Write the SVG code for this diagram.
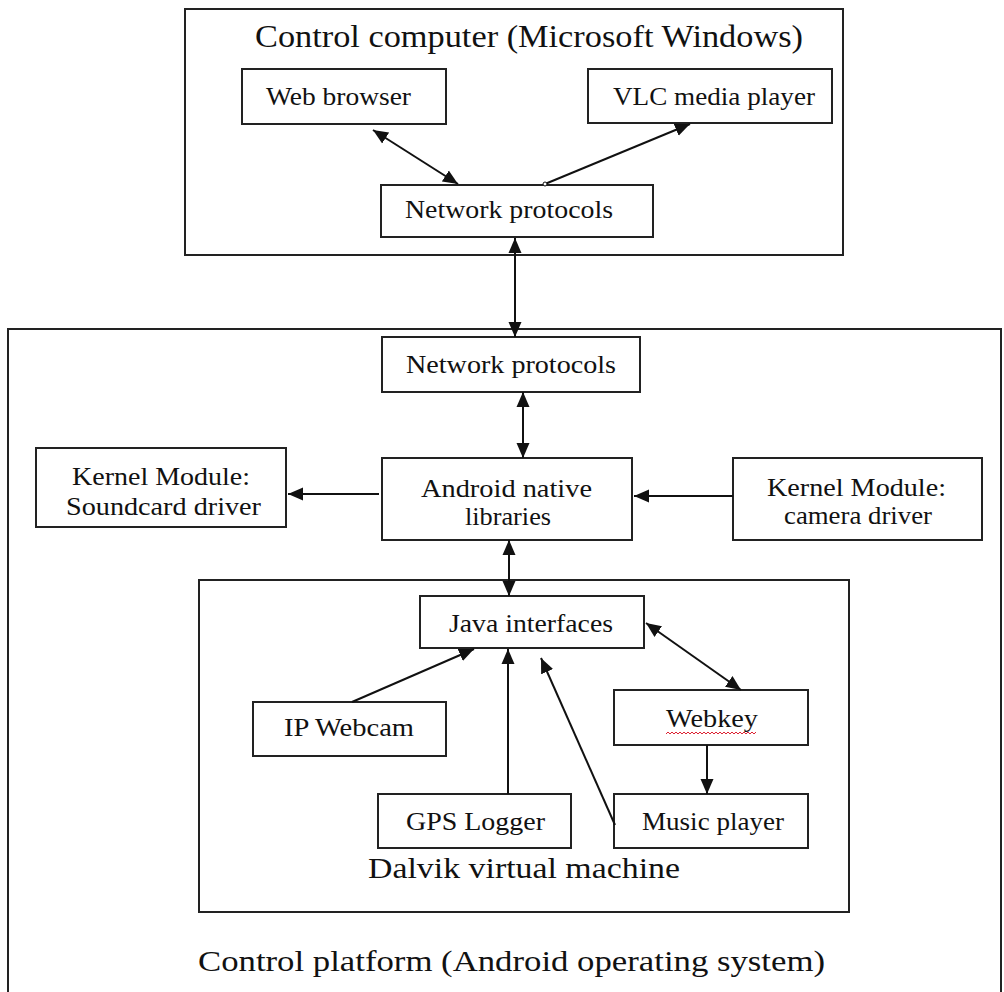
<svg xmlns="http://www.w3.org/2000/svg" width="1004" height="992" viewBox="0 0 1004 992">
<style>
.box{fill:#fff;stroke:#222;stroke-width:2}
.frame{fill:none;stroke:#222;stroke-width:2}
text{font-family:"Liberation Serif","Times New Roman",serif;fill:#111;font-size:26px}
.big{font-size:31px}
.mid{font-size:29px}
.c{stroke:#111;stroke-width:2;fill:none}
.h{marker-end:url(#ah)}
.hh{marker-start:url(#ah);marker-end:url(#ah)}
</style>
<defs>
<marker id="ah" markerUnits="userSpaceOnUse" markerWidth="16" markerHeight="14" refX="15" refY="6.5" orient="auto-start-reverse" viewBox="0 0 16 13">
<path d="M0,0 L15,6.5 L0,13 z" fill="#111"/>
</marker>
</defs>
<rect width="1004" height="992" fill="#fff"/>

<g id="control-computer">
<rect class="frame" x="185" y="9" width="658" height="246"/>
<text class="big" x="255" y="47" textLength="548" lengthAdjust="spacingAndGlyphs">Control computer (Microsoft Windows)</text>
</g>
<g id="web-browser">
<rect class="box" x="242" y="69" width="204" height="55"/>
<text x="266" y="105" textLength="145" lengthAdjust="spacingAndGlyphs">Web browser</text>
</g>
<g id="vlc">
<rect class="box" x="588" y="69" width="244" height="54"/>
<text x="613" y="105" textLength="202" lengthAdjust="spacingAndGlyphs">VLC media player</text>
</g>
<g id="net-top">
<rect class="box" x="381" y="185" width="272" height="52"/>
<text x="405" y="218" textLength="208" lengthAdjust="spacingAndGlyphs">Network protocols</text>
</g>

<g id="control-platform">
<path class="frame" d="M8,992 V329 H1001 V992"/>
<text class="mid" x="198" y="971" textLength="627" lengthAdjust="spacingAndGlyphs">Control platform (Android operating system)</text>
</g>
<g id="net-low">
<rect class="box" x="382" y="337" width="258" height="55"/>
<text x="406" y="373" textLength="210" lengthAdjust="spacingAndGlyphs">Network protocols</text>
</g>
<g id="soundcard">
<rect class="box" x="36" y="448" width="250" height="79"/>
<text x="72" y="485" textLength="178" lengthAdjust="spacingAndGlyphs">Kernel Module:</text>
<text x="66" y="515" textLength="195" lengthAdjust="spacingAndGlyphs">Soundcard driver</text>
</g>
<g id="android-native">
<rect class="box" x="382" y="458" width="250" height="82"/>
<text x="421" y="497" textLength="171" lengthAdjust="spacingAndGlyphs">Android native</text>
<text x="465" y="525" textLength="86" lengthAdjust="spacingAndGlyphs">libraries</text>
</g>
<g id="camera">
<rect class="box" x="733" y="458" width="249" height="82"/>
<text x="767" y="496" textLength="179" lengthAdjust="spacingAndGlyphs">Kernel Module:</text>
<text x="784" y="524" textLength="148" lengthAdjust="spacingAndGlyphs">camera driver</text>
</g>

<g id="dalvik">
<rect class="frame" x="199" y="580" width="650" height="332"/>
<text class="mid" x="368" y="878" textLength="312" lengthAdjust="spacingAndGlyphs">Dalvik virtual machine</text>
</g>
<g id="java">
<rect class="box" x="420" y="596" width="224" height="52"/>
<text x="449" y="632" textLength="164" lengthAdjust="spacingAndGlyphs">Java interfaces</text>
</g>
<g id="ipwebcam">
<rect class="box" x="253" y="702" width="193" height="54"/>
<text x="284" y="736" textLength="130" lengthAdjust="spacingAndGlyphs">IP Webcam</text>
</g>
<g id="webkey">
<rect class="box" x="614" y="690" width="194" height="55"/>
<text x="666" y="727" textLength="92" lengthAdjust="spacingAndGlyphs">Webkey</text>
<path d="M666,734 l2,-2 l2,2 l2,-2 l2,2 l2,-2 l2,2 l2,-2 l2,2 l2,-2 l2,2 l2,-2 l2,2 l2,-2 l2,2 l2,-2 l2,2 l2,-2 l2,2 l2,-2 l2,2 l2,-2 l2,2 l2,-2 l2,2 l2,-2 l2,2 l2,-2 l2,2 l2,-2 l2,2 l2,-2 l2,2 l2,-2 l2,2 l2,-2 l2,2 l2,-2 l2,2 l2,-2 l2,2 l2,-2 l2,2 l2,-2 l2,2 l2,-2" fill="none" stroke="#d23" stroke-width="1"/>
</g>
<g id="gps">
<rect class="box" x="378" y="794" width="193" height="54"/>
<text x="406" y="830" textLength="139" lengthAdjust="spacingAndGlyphs">GPS Logger</text>
</g>
<g id="music">
<rect class="box" x="614" y="794" width="194" height="54"/>
<text x="642" y="830" textLength="142" lengthAdjust="spacingAndGlyphs">Music player</text>
</g>

<g id="connectors">
<line class="c hh" x1="373" y1="130" x2="458" y2="184"/>
<line class="c h" x1="545" y1="184" x2="690" y2="124"/>
<circle cx="545" cy="184" r="2" fill="#fff" stroke="#111" stroke-width="1"/>
<line class="c hh" x1="515" y1="238" x2="515" y2="337"/>
<line class="c hh" x1="523" y1="392" x2="523" y2="458"/>
<line class="c h" x1="379" y1="494" x2="288" y2="494"/>
<line class="c h" x1="733" y1="496" x2="634" y2="496"/>
<line class="c hh" x1="509" y1="540" x2="509" y2="596"/>
<line class="c h" x1="352" y1="702" x2="474" y2="649"/>
<line class="c h" x1="508" y1="794" x2="508" y2="649"/>
<line class="c h" x1="615" y1="825" x2="541" y2="658"/>
<line class="c hh" x1="646" y1="623" x2="741" y2="690"/>
<line class="c h" x1="707" y1="745" x2="707" y2="794"/>
</g>
</svg>
